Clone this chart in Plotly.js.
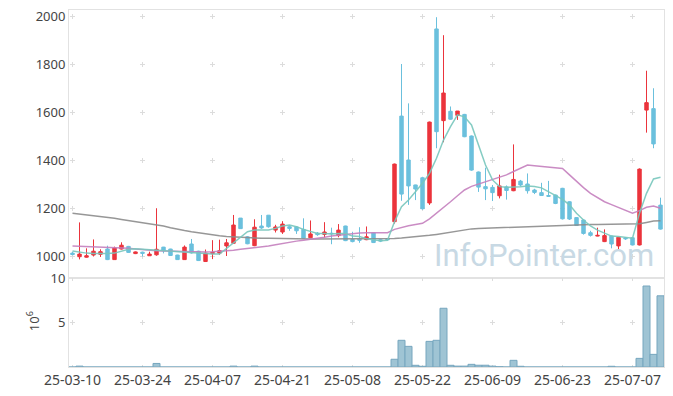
<!DOCTYPE html>
<html>
<head>
<meta charset="utf-8">
<script src="https://cdn.plot.ly/plotly-3.0.1.min.js"></script>
<style>
html,body{margin:0;padding:0;background:#fff;}
#chart{width:673px;height:396px;}
</style>
</head>
<body>
<div id="chart"></div>
<script>
const dates = ['25-03-10','25-03-11','25-03-12','25-03-13','25-03-14','25-03-17','25-03-18','25-03-19','25-03-20','25-03-21',
'25-03-24','25-03-25','25-03-26','25-03-27','25-03-28','25-03-31','25-04-01','25-04-02','25-04-03','25-04-04',
'25-04-07','25-04-08','25-04-09','25-04-10','25-04-11','25-04-14','25-04-15','25-04-16','25-04-17','25-04-18',
'25-04-21','25-04-22','25-04-23','25-04-24','25-04-25','25-04-28','25-04-29','25-04-30','25-05-02','25-05-07',
'25-05-08','25-05-09','25-05-12','25-05-13','25-05-14','25-05-15','25-05-16','25-05-19','25-05-20','25-05-21',
'25-05-22','25-05-23','25-05-26','25-05-27','25-05-28','25-05-29','25-05-30','25-06-02','25-06-04','25-06-05',
'25-06-09','25-06-10','25-06-11','25-06-12','25-06-13','25-06-16','25-06-17','25-06-18','25-06-19','25-06-20',
'25-06-23','25-06-24','25-06-25','25-06-26','25-06-27','25-06-30','25-07-01','25-07-02','25-07-03','25-07-04',
'25-07-07','25-07-08','25-07-09','25-07-10','25-07-11'];

const openP = [1012,997,995,1004,1007,1029,985,1029,1040,1010,
1016,1001,1005,1037,1029,1004,985,1050,1020,977,
1010,1012,1042,1053,1158,1080,1043,1125,1170,1108,
1100,1122,1121,1111,1076,1095,1090,1095,1085,1125,
1069,1070,1068,1096,1068,1072,1143,1583,1400,1296,
1326,1221,1946,1564,1603,1586,1590,1500,1350,1289,
1286,1251,1288,1272,1312,1300,1275,1264,1252,1254,
1282,1226,1160,1150,1097,1083,1060,1083,1042,1075,
1076,1046,1608,1614,1212];

const highP = [1018,1140,1032,1069,1028,1043,1039,1057,1042,1019,
1018,1018,1199,1038,1030,1005,1044,1071,1022,1027,
1066,1068,1071,1171,1158,1083,1153,1171,1171,1130,
1145,1127,1125,1157,1148,1100,1141,1118,1133,1126,
1101,1120,1123,1097,1072,1073,1385,1800,1636,1297,
1330,1560,1995,1920,1623,1604,1592,1502,1352,1368,
1296,1339,1294,1465,1317,1344,1280,1305,1313,1256,
1284,1228,1162,1152,1105,1118,1111,1085,1080,1078,
1078,1365,1772,1699,1243];

const lowP = [1003,986,993,998,996,983,985,1027,1013,1008,
998,1000,1001,1011,1000,984,984,1010,979,975,
987,1005,1000,1050,1113,1049,1041,1113,1118,1098,
1092,1105,1092,1072,1074,1084,1078,1049,1078,1062,
1057,1055,1066,1054,1058,1066,1135,1230,1213,1233,
1193,1213,1449,1474,1568,1567,1495,1355,1267,1233,
1229,1240,1235,1270,1290,1260,1258,1250,1247,1216,
1152,1150,1125,1089,1081,1082,1058,1032,1028,1067,
1044,1044,1514,1449,1110];

const closeP = [1006,1008,1001,1020,1018,985,1033,1045,1015,1017,
1011,1008,1028,1022,1002,985,1037,1013,981,1012,
1015,1022,1055,1129,1114,1051,1120,1117,1122,1121,
1133,1115,1105,1074,1092,1089,1100,1093,1108,1064,
1060,1066,1080,1056,1062,1068,1383,1258,1292,1279,
1197,1558,1518,1679,1570,1604,1497,1358,1287,1280,
1264,1292,1273,1319,1296,1272,1265,1252,1249,1219,
1155,1154,1127,1094,1086,1086,1085,1050,1078,1072,
1046,1362,1639,1467,1112];

const ma5 = [1021,1016,1012,1010,1009,1010,1012,1020,1028,1030,
1028,1025,1024,1020,1018,1015,1014,1012,1010,1009,
1008,1008,1032,1053,1081,1101,1108,1108,1108,1115,
1125,1129,1122,1111,1101,1094,1094,1092,1094,1094,
1083,1081,1072,1067,1064,1066,1143,1205,1233,1268,
1303,1344,1407,1483,1539,1588,1580,1546,1463,1379,
1317,1289,1286,1286,1289,1292,1290,1284,1268,1254,
1236,1213,1178,1150,1125,1108,1094,1083,1081,1076,
1074,1178,1261,1321,1328];

const ma20 = [1042,1041,1040,1040,1039,1038,1036,1034,1032,1029,
1026,1024,1022,1021,1020,1019,1018,1018,1017,1017,
1018,1019,1021,1024,1028,1031,1035,1038,1042,1047,
1053,1058,1062,1066,1069,1074,1078,1083,1087,1091,
1094,1096,1097,1097,1097,1097,1111,1119,1126,1131,
1136,1155,1178,1202,1226,1251,1275,1290,1300,1309,
1317,1327,1338,1352,1365,1379,1376,1374,1372,1369,
1365,1338,1310,1285,1261,1243,1226,1214,1203,1190,
1178,1189,1203,1208,1199];

const maLong = [1178,1175,1172,1168,1163,1160,1157,1152,1148,1143,
1139,1135,1130,1125,1118,1111,1106,1101,1096,1092,
1088,1084,1081,1079,1077,1076,1075,1074,1074,1073,
1073,1072,1072,1072,1071,1071,1071,1071,1071,1070,
1070,1070,1070,1070,1070,1071,1073,1075,1077,1079,
1082,1086,1090,1095,1100,1105,1110,1113,1115,1116,
1117,1118,1119,1120,1122,1123,1125,1126,1128,1129,
1130,1130,1131,1131,1131,1131,1131,1131,1131,1131,
1131,1134,1140,1146,1147];

// volume in millions of shares
const volume = [0,0.1,0,0,0,0,0,0,0,0,
0,0,0.4,0,0,0,0,0,0,0,
0,0,0,0.1,0,0,0.1,0,0,0,
0,0,0,0,0,0,0,0,0,0,
0,0,0,0,0,0,0.87,3.0,2.32,0.19,
0.08,2.88,3.0,6.6,0.19,0.1,0.1,0.3,0.2,0.2,
0.1,0.03,0,0.75,0.08,0,0,0,0,0,
0,0,0,0,0,0,0,0.08,0,0,
0,0.97,9.1,1.42,8.0];

const tickLabels = ['25-03-10','25-03-24','25-04-07','25-04-21','25-05-08','25-05-22','25-06-09','25-06-23','25-07-07'];
const priceTicks = [1000,1200,1400,1600,1800,2000];
const volTicks = [5,10];

const incColor = '#eb343c';
const decColor = '#6bc0dd';
const gridC = '#dcdcdc';
const lineC = '#e2e2e2';
const tickFontY = {family:'Noto Sans, sans-serif', size:13, color:'#444'};
const tickFontX = {family:'Noto Sans, sans-serif', size:14, color:'#444'};
const splitY = 89/357;

const traces = [
  {type:'candlestick', x:dates, open:openP, high:highP, low:lowP, close:closeP,
   xaxis:'x', yaxis:'y', whiskerwidth:0, hoverinfo:'skip', showlegend:false,
   increasing:{line:{color:incColor,width:1}, fillcolor:incColor},
   decreasing:{line:{color:decColor,width:1}, fillcolor:decColor}},
  {type:'scatter', mode:'lines', x:dates, y:maLong, xaxis:'x', yaxis:'y',
   line:{color:'rgba(140,140,140,0.9)', width:1.5}, hoverinfo:'skip', showlegend:false},
  {type:'scatter', mode:'lines', x:dates, y:ma20, xaxis:'x', yaxis:'y',
   line:{color:'rgba(196,128,190,0.9)', width:1.5}, hoverinfo:'skip', showlegend:false},
  {type:'scatter', mode:'lines', x:dates, y:ma5, xaxis:'x', yaxis:'y',
   line:{color:'rgba(120,198,188,0.9)', width:1.5}, hoverinfo:'skip', showlegend:false},
  {type:'bar', x:dates, y:volume, xaxis:'x2', yaxis:'y2',
   marker:{color:'#9fc4d4', line:{color:'#76a6be', width:1}}, hoverinfo:'skip', showlegend:false}
];

const layout = {
  width:673, height:396,
  margin:{l:69, r:9, t:10, b:29},
  paper_bgcolor:'#fff', plot_bgcolor:'#fff',
  bargap:0,
  showlegend:false,
  xaxis:{type:'category', anchor:'y', domain:[0,1], range:[-0.5,84.5],
    tickvals:tickLabels, showticklabels:false, ticks:'',
    showgrid:true, gridcolor:gridC, gridwidth:1, griddash:'0px,3.5px,5px,39.5px',
    showline:true, linecolor:lineC, linewidth:1, mirror:true, zeroline:false,
    rangeslider:{visible:false}, fixedrange:true},
  yaxis:{domain:[splitY,1], range:[908.33,2025], tickvals:priceTicks, ticks:'',
    tickfont:tickFontY, showgrid:true, gridcolor:gridC, gridwidth:1, griddash:'0px,1px,5px,64px',
    showline:true, linecolor:lineC, linewidth:1, mirror:true, zeroline:false, fixedrange:true},
  xaxis2:{type:'category', anchor:'y2', domain:[0,1], range:[-0.5,84.5],
    tickvals:tickLabels, ticktext:tickLabels, ticks:'', tickfont:tickFontX,
    showgrid:true, gridcolor:gridC, gridwidth:1, griddash:'2.5px,39.5px,5px,39.5px',
    showline:true, linecolor:lineC, linewidth:1, mirror:true, zeroline:false, fixedrange:true},
  yaxis2:{domain:[0,splitY], range:[0,10], tickvals:volTicks, ticks:'',
    tickfont:tickFontY, showgrid:true, gridcolor:gridC, gridwidth:1, griddash:'0px,1px,5px,64px',
    showline:true, linecolor:lineC, linewidth:1, mirror:true, zeroline:false, fixedrange:true},
  annotations:[
    {text:'10<sup>6</sup>', xref:'paper', yref:'paper', x:-0.06, y:0.129,
     xanchor:'center', yanchor:'middle', textangle:-90, showarrow:false,
     font:{family:'Noto Sans, sans-serif', size:13, color:'#444'}},
    {text:'InfoPointer.com', xref:'paper', yref:'paper', x:0.986, y:0.3137,
     xanchor:'right', yanchor:'middle', showarrow:false,
     font:{family:'Roboto, sans-serif', size:31, color:'#c8d9e4'}}
  ]
};

Plotly.newPlot('chart', traces, layout, {displayModeBar:false, staticPlot:true});
</script>
</body>
</html>
